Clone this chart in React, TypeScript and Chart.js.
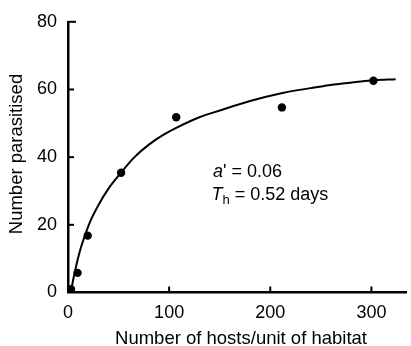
import React, { useEffect, useRef } from "react";
import { Chart, registerables } from "chart.js";

Chart.register(...registerables);

const hostsObserved = [3, 9.5, 19.5, 52.5, 107, 211.5, 302];
const parasitisedObserved = [1, 5.8, 16.8, 35.4, 51.8, 54.7, 62.6];

const curveHosts = [3, 6, 9, 12, 15.4, 22, 30, 40, 52.4, 65, 80, 95, 110, 130, 150, 180, 211, 240, 263, 285, 302, 324];
const curveParasitised = [0.5, 5, 9, 12.5, 15.7, 21, 25.8, 30.7, 35.4, 39.8, 43.7, 46.7, 49.1, 51.8, 53.8, 56.6, 58.9, 60.4, 61.5, 62.2, 62.7, 63.0];

const xTicks = [0, 100, 200, 300];
const yTicks = [0, 20, 40, 60, 80];

const xTitle = "Number of hosts/unit of habitat";
const yTitle = "Number parasitised";

const FONT = "'Liberation Sans', Arial, Helvetica, sans-serif";

const decorPlugin = {
  id: "decor",
  afterDraw(chart: any) {
    const ctx = chart.ctx;
    const xs = chart.scales.x;
    const ys = chart.scales.y;
    ctx.save();
    ctx.strokeStyle = "#000";
    ctx.lineWidth = 2;
    const y0 = ys.getPixelForValue(0);
    const x0 = xs.getPixelForValue(0);
    xTicks.forEach((v) => {
      if (v === 0) return;
      const px = xs.getPixelForValue(v);
      ctx.beginPath();
      ctx.moveTo(px, y0);
      ctx.lineTo(px, y0 - 6);
      ctx.stroke();
    });
    yTicks.forEach((v) => {
      if (v === 0) return;
      const py = ys.getPixelForValue(v);
      ctx.beginPath();
      ctx.moveTo(x0, py);
      ctx.lineTo(x0 + (v === 80 ? 8 : 6), py);
      ctx.stroke();
    });
    ctx.fillStyle = "#000";
    ctx.textBaseline = "alphabetic";
    // axis titles
    ctx.font = `18.5px ${FONT}`;
    ctx.textAlign = "center";
    ctx.fillText(xTitle, 241, 343.5);
    ctx.save();
    ctx.translate(22, 154);
    ctx.rotate(-Math.PI / 2);
    ctx.fillText(yTitle, 0, 0);
    ctx.restore();
    // annotation
    ctx.textAlign = "left";
    let x = 213;
    ctx.font = `italic 18px ${FONT}`;
    ctx.fillText("a", x, 176.5);
    x += ctx.measureText("a").width;
    ctx.font = `18px ${FONT}`;
    ctx.fillText("' = 0.06", x, 176.5);
    x = 211.5;
    ctx.font = `italic 18px ${FONT}`;
    ctx.fillText("T", x, 200);
    x += ctx.measureText("T").width;
    ctx.font = `13px ${FONT}`;
    ctx.fillText("h", x, 204);
    x += ctx.measureText("h").width;
    ctx.font = `18px ${FONT}`;
    ctx.fillText(" = 0.52 days", x, 200);
    ctx.restore();
  },
};

export default function App() {
  const ref = useRef<HTMLCanvasElement>(null);
  useEffect(() => {
    if (!ref.current) return;
    const chart = new Chart(ref.current, {
      type: "scatter",
      data: {
        datasets: [
          {
            type: "line",
            data: curveHosts.map((h, i) => ({ x: h, y: curveParasitised[i] })),
            borderColor: "#000",
            borderWidth: 2,
            pointRadius: 0,
            cubicInterpolationMode: "monotone",
            fill: false,
          } as any,
          {
            data: hostsObserved.map((h, i) => ({ x: h, y: parasitisedObserved[i] })),
            backgroundColor: "#000",
            borderColor: "#000",
            pointRadius: 4.2,
            borderWidth: 0,
          },
        ],
      },
      plugins: [decorPlugin],
      options: {
        animation: false,
        responsive: false,
        maintainAspectRatio: false,
        layout: { padding: { top: 15, right: 1, left: 0, bottom: 0 } },
        plugins: { legend: { display: false }, tooltip: { enabled: false } },
        scales: {
          x: {
            type: "linear",
            min: 0,
            max: 335,
            afterBuildTicks: (s: any) => {
              s.ticks = xTicks.map((v) => ({ value: v }));
            },
            afterFit: (s: any) => {
              s.height = 53.5;
            },
            grid: { display: false, drawTicks: false },
            border: { display: true, color: "#000", width: 2.5 },
            ticks: {
              color: "#000",
              padding: 10,
              font: { family: FONT, size: 18 },
              maxRotation: 0,
            },
          },
          y: {
            type: "linear",
            min: 0,
            max: 80,
            afterBuildTicks: (s: any) => {
              s.ticks = yTicks.map((v) => ({ value: v }));
            },
            afterFit: (s: any) => {
              s.width = 68;
            },
            grid: { display: false, drawTicks: false },
            border: { display: true, color: "#000", width: 2.5 },
            ticks: {
              color: "#000",
              padding: 11,
              font: { family: FONT, size: 18 },
            },
          },
        },
      } as any,
    });
    return () => chart.destroy();
  }, []);
  return (
    <div style={{ position: "absolute", left: 0, top: 0, width: 411, height: 346, background: "#fff" }}>
      <canvas ref={ref} width={411} height={346} style={{ width: 411, height: 346 }} />
    </div>
  );
}
